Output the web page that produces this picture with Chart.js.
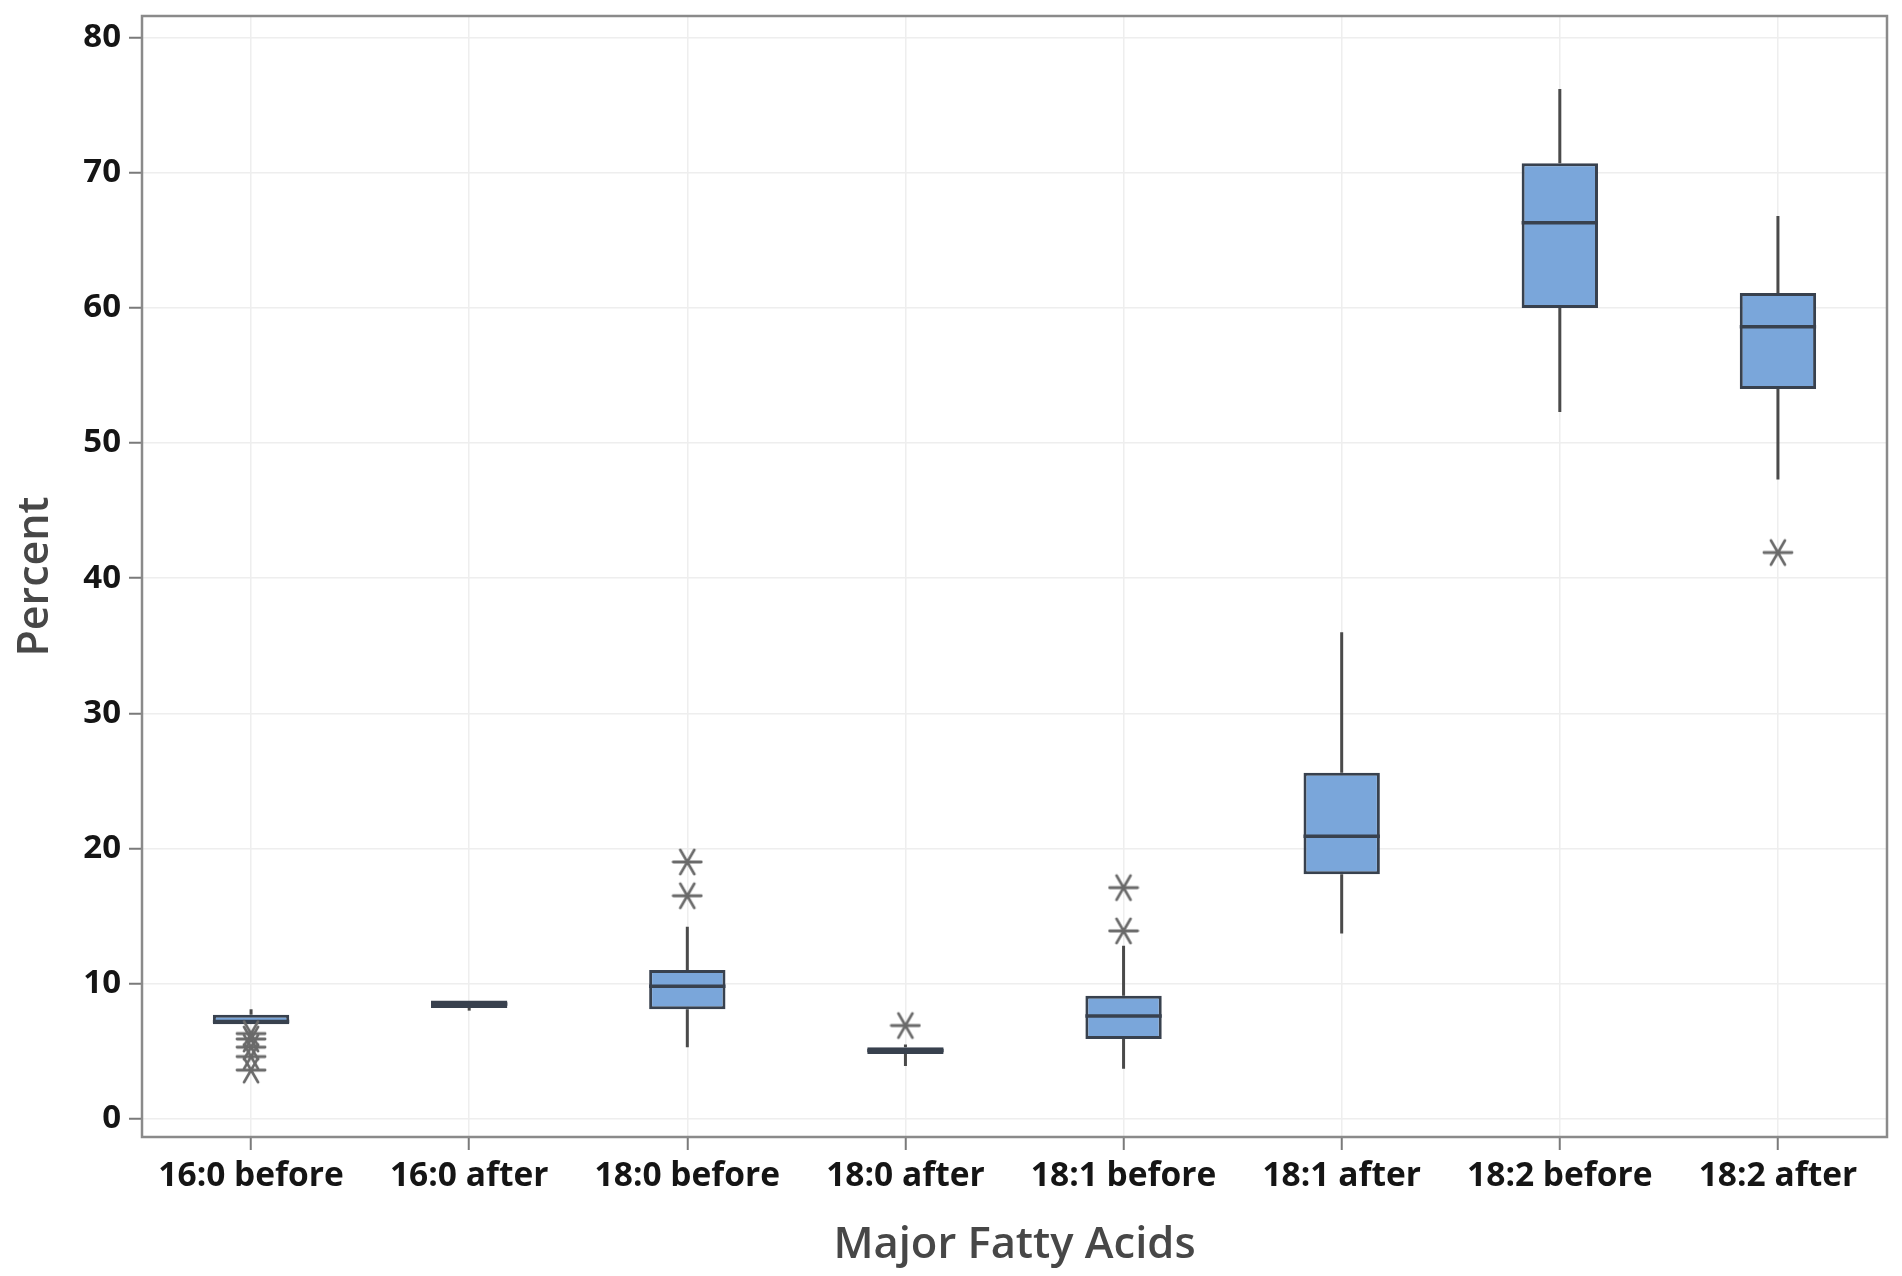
<!DOCTYPE html>
<html>
<head>
<meta charset="utf-8">
<script src="https://cdn.jsdelivr.net/npm/chart.js@4.4.1/dist/chart.umd.min.js"></script>
<style>
  html, body { margin: 0; padding: 0; background: #fff; }
  #wrap { width: 1902px; height: 1276px; }
</style>
</head>
<body>
<div id="wrap"><canvas id="box-chart" width="1902" height="1276"></canvas></div>
<script>
// values
const categories = ['16:0 before', '16:0 after', '18:0 before', '18:0 after',
                    '18:1 before', '18:1 after', '18:2 before', '18:2 after'];
const whiskerLow  = [7.0, 8.0, 5.3, 3.9, 3.7, 13.7, 52.3, 47.3];
const q1          = [7.0, 8.2, 8.1, 4.8, 5.9, 18.1, 60.0, 54.0];
const median      = [7.2, 8.5, 9.8, 5.05, 7.6, 20.9, 66.3, 58.6];
const q3          = [7.7, 8.75, 11.0, 5.3, 9.1, 25.6, 70.7, 61.1];
const whiskerHigh = [8.1, 8.75, 14.2, 5.5, 12.8, 36.0, 76.2, 66.8];
const outlierCat  = ['16:0 before', '16:0 before', '16:0 before', '16:0 before', '16:0 before',
                     '18:0 before', '18:0 before', '18:0 after', '18:1 before', '18:1 before', '18:2 after'];
const outlierVal  = [6.3, 5.9, 5.3, 4.6, 3.6, 19.0, 16.5, 6.9, 17.1, 13.9, 41.9];
const yTicks = [0, 10, 20, 30, 40, 50, 60, 70, 80];

function initBox() {
    const ctx = document.getElementById('box-chart')?.getContext('2d');
    if (!ctx) return;

    // six-armed asterisk, like the Minitab outlier symbol
    const star = document.createElement('canvas');
    star.width = star.height = 32;
    const s = star.getContext('2d');
    s.strokeStyle = '#6a6a6a'; s.lineWidth = 2.8; s.lineCap = 'round';
    for (const a of [0, Math.PI / 3, 2 * Math.PI / 3]) {
        s.beginPath();
        s.moveTo(16 - 14 * Math.cos(a), 16 - 14 * Math.sin(a));
        s.lineTo(16 + 14 * Math.cos(a), 16 + 14 * Math.sin(a));
        s.stroke();
    }

    const boxParts = {
        id: 'boxParts',
        beforeDatasetsDraw(chart) {
            const { ctx, scales: { x, y } } = chart;
            ctx.save();
            ctx.strokeStyle = '#4a4a4a'; ctx.lineWidth = 3;
            categories.forEach((c, i) => {
                const px = x.getPixelForValue(i);
                ctx.beginPath();
                ctx.moveTo(px, y.getPixelForValue(whiskerHigh[i]));
                ctx.lineTo(px, y.getPixelForValue(q3[i]));
                ctx.moveTo(px, y.getPixelForValue(q1[i]));
                ctx.lineTo(px, y.getPixelForValue(whiskerLow[i]));
                ctx.stroke();
            });
            ctx.restore();
        },
        afterDatasetDraw(chart, args) {
            if (args.index !== 0) return;
            const { ctx, scales: { y } } = chart;
            const meta = chart.getDatasetMeta(0);
            ctx.save();
            ctx.strokeStyle = '#38414e'; ctx.lineWidth = 3.5;
            meta.data.forEach((bar, i) => {
                const py = y.getPixelForValue(median[i]);
                ctx.beginPath();
                ctx.moveTo(bar.x - bar.width / 2, py);
                ctx.lineTo(bar.x + bar.width / 2, py);
                ctx.stroke();
            });
            ctx.restore();
        },
        afterDraw(chart) {
            const { ctx, chartArea: a } = chart;
            ctx.save();
            ctx.strokeStyle = '#8a8a8a'; ctx.lineWidth = 2.5;
            ctx.strokeRect(a.left, a.top, a.right - a.left, a.bottom - a.top);
            ctx.restore();
        }
    };

    new Chart(ctx, {
        data: {
            labels: categories,
            datasets: [
                {
                    type: 'bar', label: 'Box',
                    data: categories.map((_, i) => [q1[i], q3[i]]),
                    backgroundColor: '#7aa6da', borderColor: '#38414e', borderWidth: 3,
                    borderSkipped: false, barPercentage: 0.35, categoryPercentage: 1, order: 2
                },
                {
                    type: 'line', label: 'Outliers', showLine: false,
                    data: outlierCat.map((c, i) => ({ x: c, y: outlierVal[i] })),
                    pointStyle: star, pointRadius: 14, order: 1
                }
            ]
        },
        options: {
            responsive: false, animation: false, devicePixelRatio: 1,
            layout: { padding: { top: 16, right: 10, left: 0, bottom: 0 } },
            plugins: { legend: { display: false }, tooltip: { enabled: false } },
            scales: {
                x: {
                    type: 'category', offset: true,
                    afterFit: sc => { sc.height = 139; sc.paddingLeft = 0; sc.paddingRight = 0; },
                    grid: { color: '#eeeeee', lineWidth: 1.5, offset: false, tickLength: 13, tickColor: '#7a7a7a', tickWidth: 2 },
                    border: { display: false },
                    ticks: { color: '#151515', padding: 6, maxRotation: 0, font: { family: 'Open Sans', size: 33.5, weight: '700' } },
                    title: { display: true, text: 'Major Fatty Acids', color: '#474747', padding: { top: 4, bottom: 4 },
                             font: { family: 'Open Sans', size: 43.5, weight: '600' } }
                },
                y: {
                    min: -1.35, max: 81.6,
                    afterBuildTicks: sc => { sc.ticks = yTicks.map(v => ({ value: v })); },
                    afterFit: sc => { sc.width = 142; sc.paddingTop = 0; sc.paddingBottom = 0; },
                    grid: { color: '#eeeeee', lineWidth: 1.5, tickLength: 13, tickColor: '#7a7a7a', tickWidth: 2 },
                    border: { display: false },
                    ticks: { color: '#151515', padding: 8, font: { family: 'Open Sans', size: 33, weight: '700' } },
                    title: { display: true, text: 'Percent', color: '#474747', padding: { top: 10, bottom: 4 },
                             font: { family: 'Open Sans', size: 43, weight: '600' } }
                }
            }
        },
        plugins: [boxParts]
    });
}
requestAnimationFrame(initBox);
</script>
</body>
</html>
